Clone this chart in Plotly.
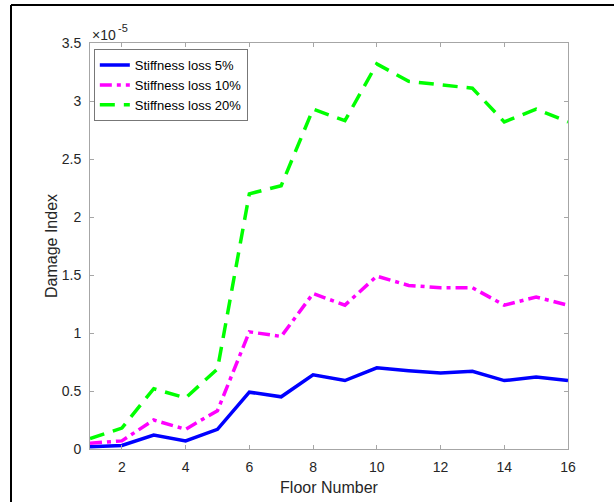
import plotly.graph_objects as go

floors = list(range(1, 17))
loss_5 = [0.02, 0.03, 0.12, 0.07, 0.17, 0.49, 0.45, 0.64, 0.59, 0.70, 0.675, 0.655, 0.67, 0.59, 0.62, 0.59]
loss_10 = [0.05, 0.07, 0.25, 0.17, 0.33, 1.01, 0.97, 1.34, 1.24, 1.49, 1.41, 1.39, 1.39, 1.24, 1.31, 1.24]
loss_20 = [0.09, 0.18, 0.52, 0.44, 0.69, 2.20, 2.27, 2.93, 2.83, 3.32, 3.17, 3.14, 3.11, 2.82, 2.93, 2.82]
names = ["Stiffness loss 5%", "Stiffness loss 10%", "Stiffness loss 20%"]
x_ticks = [2, 4, 6, 8, 10, 12, 14, 16]
y_ticks = [0, 0.5, 1, 1.5, 2, 2.5, 3, 3.5]
y_ticktext = ["0", "0.5", "1", "1.5", "2", "2.5", "3", "3.5"]

FONT = "Liberation Sans, Arial, sans-serif"
TXT = "#262626"
AX = "#a6a6a6"

fig = go.Figure()
fig.add_trace(go.Scatter(x=floors, y=loss_5, name=names[0], mode="lines",
                         line=dict(color="#0000ff", width=3.5)))
fig.add_trace(go.Scatter(x=floors, y=loss_10, name=names[1], mode="lines",
                         line=dict(color="#ff00ff", width=3.5, dash="12px,5px,4px,5px")))
fig.add_trace(go.Scatter(x=floors, y=loss_20, name=names[2], mode="lines",
                         line=dict(color="#00ff00", width=3.5, dash="15px,9px")))

L, R, T, B = 90, 46, 43, 53
W, H = 614, 502
pw, ph = W - L - R, H - T - B

fig.update_layout(
    width=W, height=H,
    margin=dict(l=L, r=R, t=T, b=B, pad=0, autoexpand=False),
    paper_bgcolor="white", plot_bgcolor="white",
    font=dict(family=FONT, size=14, color=TXT),
    showlegend=True,
    legend=dict(x=0.008, y=0.985, xanchor="left", yanchor="top",
                bgcolor="white", bordercolor="#777777", borderwidth=1,
                font=dict(size=13, color="#000000"), tracegroupgap=0,
                itemwidth=30),
    xaxis=dict(range=[1, 16], tickvals=x_ticks, ticks="inside", ticklen=4,
               tickcolor=AX, showline=True, linecolor=AX, linewidth=1, mirror="ticks",
               showgrid=False, zeroline=False, ticklabelstandoff=5, automargin=False,
               title=dict(text="Floor Number", font=dict(size=16, color=TXT), standoff=8),
               tickfont=dict(size=14, color=TXT)),
    yaxis=dict(range=[0, 3.5], tickvals=y_ticks, ticktext=y_ticktext, ticks="inside", ticklen=4,
               tickcolor=AX, showline=True, linecolor=AX, linewidth=1, mirror="ticks",
               showgrid=False, zeroline=False, ticklabelstandoff=5, automargin=False,
               title=dict(text="Damage Index", font=dict(size=16, color=TXT), standoff=0),
               tickfont=dict(size=14, color=TXT)),
)

fig.add_annotation(xref="paper", yref="paper", x=0, y=1, xanchor="left", yanchor="middle",
                   text="×10", showarrow=False, font=dict(size=14, color=TXT),
                   xshift=0, yshift=8)
fig.add_annotation(xref="paper", yref="paper", x=0, y=1, xanchor="left", yanchor="middle",
                   text="-5", showarrow=False, font=dict(size=11, color=TXT),
                   xshift=26, yshift=15)

# outer frame (top and left edges visible)
fx0 = (11 - L) / pw
fx1 = (W + 5 - L) / pw
fy_top = (H - B - 5) / ph
fy_bot = (H - B - (H + 5)) / ph
fig.add_shape(type="line", xref="paper", yref="paper", x0=fx0, x1=fx1, y0=fy_top, y1=fy_top,
              line=dict(color="black", width=2))
fig.add_shape(type="line", xref="paper", yref="paper", x0=fx0, x1=fx0, y0=fy_top, y1=fy_bot,
              line=dict(color="black", width=2))

fig.write_html("out.html")
